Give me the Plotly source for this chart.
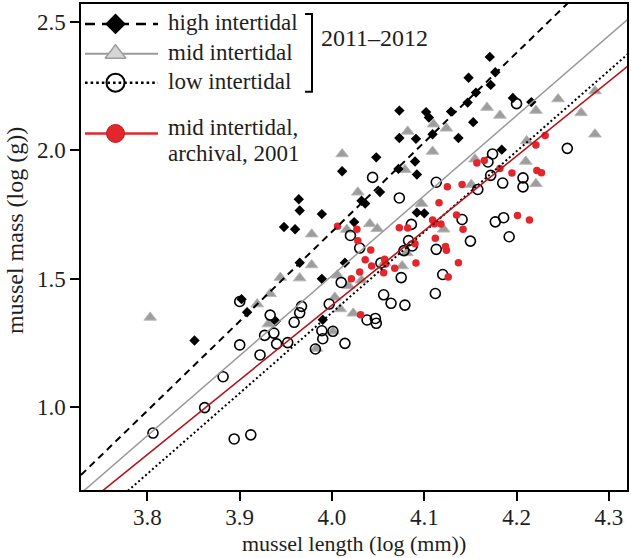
import plotly.graph_objects as go

# ---------------- data ----------------
high_x = [3.851, 3.902, 3.908, 3.939, 3.965, 3.989, 3.990, 3.948, 3.960, 3.964,
          3.965, 3.989, 4.014, 4.024, 4.011, 4.032, 4.036, 4.048, 4.052, 4.073,
          4.073, 4.072, 4.090, 4.092, 4.092, 4.100, 4.102, 4.105, 4.109, 4.091,
          4.129, 4.137, 4.148, 4.156, 4.147, 4.153, 4.171, 4.177, 4.172, 4.196,
          4.216, 4.184]
high_y = [1.260, 1.421, 1.370, 1.335, 1.563, 1.500, 1.341, 1.702, 1.693, 1.810,
          1.766, 1.752, 1.563, 1.721, 1.919, 1.804, 1.793, 1.973, 1.838, 2.155,
          2.048, 1.928, 1.957, 1.906, 1.758, 1.755, 2.149, 2.128, 2.063, 2.045,
          2.151, 2.048, 2.283, 2.225, 2.186, 2.110, 2.364, 2.304, 2.255, 2.204,
          2.188, 2.003]

mid_x = [3.803, 3.919, 3.933, 3.931, 3.944, 3.965, 3.978, 3.978, 4.006, 4.016,
         4.018, 4.003, 4.009, 4.023, 4.032, 4.011, 4.028, 4.041, 4.049, 4.057,
         4.076, 4.081, 4.079, 4.082, 4.097, 4.109, 4.110, 4.124, 4.121, 4.155,
         4.151, 4.168, 4.182, 4.211, 4.210, 4.221, 4.221, 4.245, 4.285, 4.270,
         4.285, 3.983, 4.001]
mid_y = [1.350, 1.402, 1.442, 1.324, 1.505, 1.503, 1.554, 1.674, 1.514, 1.692,
         1.473, 1.428, 1.383, 1.366, 1.495, 1.986, 1.837, 1.714, 1.695, 1.563,
         1.550, 1.601, 1.925, 2.074, 1.793, 1.996, 2.102, 2.086, 1.693, 1.966,
         1.867, 2.167, 2.136, 2.037, 1.957, 1.870, 2.155, 2.200, 2.231, 2.146,
         2.063, 1.229, 1.296]

low_x = [3.806, 3.862, 3.882, 3.894, 3.912, 3.900, 3.900, 3.922, 3.933, 3.927,
         3.937, 3.940, 3.952, 3.959, 3.965, 3.967, 3.982, 3.989, 3.990, 4.001,
         4.014, 3.997, 4.010, 4.020, 4.030, 4.038, 4.047, 4.048, 4.056, 4.064,
         4.079, 4.075, 4.053, 4.044, 4.073, 4.086, 4.083, 4.087, 4.078, 4.113,
         4.113, 4.112, 4.120, 4.141, 4.150, 4.158, 4.169, 4.174, 4.172, 4.185,
         4.207, 4.207, 4.177, 4.186, 4.192, 4.200, 4.255]
low_y = [0.900, 0.999, 1.119, 0.877, 0.893, 1.243, 1.412, 1.204, 1.359, 1.280,
         1.289, 1.247, 1.252, 1.331, 1.368, 1.393, 1.227, 1.298, 1.267, 1.296,
         1.249, 1.402, 1.486, 1.669, 1.620, 1.340, 1.346, 1.327, 1.438, 1.405,
         1.398, 1.505, 1.562, 1.895, 1.815, 1.712, 1.649, 1.628, 1.610, 1.615,
         1.876, 1.443, 1.517, 1.731, 1.647, 1.848, 1.955, 1.986, 1.903, 1.873,
         1.893, 1.858, 1.722, 1.738, 1.664, 2.182, 2.008]

arch_x = [4.006, 4.027, 4.028, 4.021, 4.030, 4.036, 4.043, 4.042, 4.057, 4.058,
          4.056, 4.068, 4.091, 4.126, 4.031, 4.073, 4.082, 4.090, 4.109, 4.111,
          4.118, 4.116, 4.125, 4.135, 4.141, 4.137, 4.112, 4.123, 4.124, 4.142,
          4.157, 4.165, 4.182, 4.195, 4.222, 4.227, 4.221, 4.231, 4.201, 4.214]
arch_y = [1.705, 1.693, 1.648, 1.500, 1.527, 1.574, 1.550, 1.612, 1.576, 1.558,
          1.524, 1.541, 1.562, 1.507, 1.360, 1.699, 1.698, 1.637, 1.729, 1.715,
          1.714, 1.796, 1.859, 1.749, 1.867, 1.563, 1.658, 1.626, 1.611, 1.693,
          1.951, 1.961, 1.930, 1.912, 1.922, 1.913, 2.021, 2.058, 1.747, 1.729]

# fitted regression lines: intercept, slope (log mass ~ log length)
fit_names = ["high", "mid", "low", "archival"]
fit_intercepts = [-12.2405, -10.9395, -11.179, -10.2187]
fit_slopes = [3.481, 3.113, 3.137, 2.904]

legend_labels = ["high intertidal", "mid intertidal", "low intertidal",
                 "mid intertidal,", "archival, 2001"]
period_label = "2011\u20132012"

x_ticks = [3.8, 3.9, 4.0, 4.1, 4.2, 4.3]
y_ticks = [1.0, 1.5, 2.0, 2.5]
x_title = "mussel length (log (mm))"
y_title = "mussel mass (log (g))"

# ---------------- figure ----------------
FONT = "Liberation Serif"
TXT = "#1e1e1e"
W, H = 631, 558
ML, MR, MT, MB = 81, 4, 2, 68
PW, PH = W - ML - MR, H - MT - MB
X_RANGE = [3.728, 4.3197]
Y_RANGE = [0.6783, 2.5698]

fig = go.Figure()

# points
fig.add_trace(go.Scatter(x=mid_x, y=mid_y, mode="markers", hoverinfo="skip",
                         marker=dict(symbol="triangle-up", size=11, color="#9d9d9d",
                                     line=dict(color="#b8b8b8", width=1))))
fig.add_trace(go.Scatter(x=high_x, y=high_y, mode="markers", hoverinfo="skip",
                         marker=dict(symbol="diamond", size=8, color="black",
                                     line=dict(width=0))))
fig.add_trace(go.Scatter(x=low_x, y=low_y, mode="markers", hoverinfo="skip",
                         marker=dict(symbol="circle-open", size=10, color="black",
                                     line=dict(color="black", width=1.6))))
fig.add_trace(go.Scatter(x=arch_x, y=arch_y, mode="markers", hoverinfo="skip",
                         marker=dict(symbol="circle", size=7.5, color="#e3262d",
                                     line=dict(width=0))))

# regression lines
line_styles = {
    "high": dict(color="black", width=2, dash="7px,5px"),
    "mid": dict(color="#9a9a9a", width=1.5),
    "low": dict(color="black", width=2, dash="2px,2.6px"),
    "archival": dict(color="#b3151c", width=1.6),
}
xl = [3.70, 4.35]
for name, a, b in zip(fit_names, fit_intercepts, fit_slopes):
    fig.add_trace(go.Scatter(x=xl, y=[a + b * v for v in xl], mode="lines",
                             hoverinfo="skip", line=line_styles[name]))

# ---------------- hand-made legend (pixel overlay axes) ----------------
leg_rows = [22, 52, 81, 132]
leg_line = [
    dict(color="black", width=2.5, dash="10px,7px"),
    dict(color="#9a9a9a", width=2),
    dict(color="black", width=2.5, dash="2.6px,3px"),
    dict(color="#e3262d", width=2.5),
]
leg_marker = [
    dict(symbol="diamond", size=16, color="black", line=dict(width=0)),
    dict(symbol="triangle-up", size=18, color="#d6d6d6", line=dict(color="#9e9e9e", width=1.5)),
    dict(symbol="circle-open", size=18, color="black", line=dict(color="black", width=2)),
    dict(symbol="circle", size=18, color="#e3262d", line=dict(color="#c01a20", width=1)),
]
for yy, ls in zip(leg_rows, leg_line):
    fig.add_trace(go.Scatter(x=[85, 158], y=[yy, yy], mode="lines", line=ls,
                             xaxis="x2", yaxis="y2", hoverinfo="skip"))
for yy, mk in zip(leg_rows, leg_marker):
    fig.add_trace(go.Scatter(x=[115.5], y=[yy], mode="markers", marker=mk,
                             xaxis="x2", yaxis="y2", hoverinfo="skip", cliponaxis=False))

annotations = []
text_rows = [21, 51, 80, 126, 152]
for lab, yy in zip(legend_labels, text_rows):
    annotations.append(dict(x=166, y=yy, xref="x2", yref="y2", text=lab,
                            showarrow=False, xanchor="left", yanchor="middle",
                            font=dict(family=FONT, size=23, color=TXT)))
annotations.append(dict(x=319, y=36, xref="x2", yref="y2", text=period_label,
                        showarrow=False, xanchor="left", yanchor="middle",
                        font=dict(family=FONT, size=24, color=TXT)))
# axis titles
annotations.append(dict(x=0.5, y=-(H - (MT + PH)) / PH, xref="paper", yref="paper",
                        text=x_title, showarrow=False, xanchor="center", yanchor="bottom",
                        font=dict(family=FONT, size=22, color=TXT)))
annotations.append(dict(x=(15 - ML) / PW, y=(MT + PH - 230) / PH, xref="paper", yref="paper",
                        text=y_title, showarrow=False, xanchor="center", yanchor="middle",
                        textangle=-90, font=dict(family=FONT, size=24, color=TXT)))

shapes = [dict(type="path", xref="x2", yref="y2", path="M305,12 H312 V90 H305",
               line=dict(color="black", width=2))]

axis_common = dict(showgrid=False, zeroline=False, showline=True, linecolor="black",
                   linewidth=1.5, mirror=True, ticks="outside", ticklen=9,
                   tickwidth=1.5, tickcolor="black",
                   tickfont=dict(family=FONT, size=23, color=TXT))

fig.update_layout(
    width=W, height=H, margin=dict(l=ML, r=MR, t=MT, b=MB),
    paper_bgcolor="white", plot_bgcolor="white", showlegend=False,
    xaxis=dict(range=X_RANGE, tickvals=x_ticks, ticktext=[f"{v:.1f}" for v in x_ticks],
               ticklabelstandoff=-3, **axis_common),
    yaxis=dict(range=Y_RANGE, tickvals=y_ticks, ticktext=[f"{v:.1f}" for v in y_ticks],
               **axis_common),
    xaxis2=dict(range=[ML, W - MR], overlaying="x", anchor="y2", visible=False,
                fixedrange=True),
    yaxis2=dict(range=[H - MB, MT], overlaying="y", anchor="x2", visible=False,
                fixedrange=True),
    annotations=annotations, shapes=shapes,
)

fig.write_html(
    "out.html",
    config={"displayModeBar": False},
    post_script="document.body.style.margin='0';document.body.style.padding='0';"
                "document.documentElement.style.overflow='hidden';",
)
